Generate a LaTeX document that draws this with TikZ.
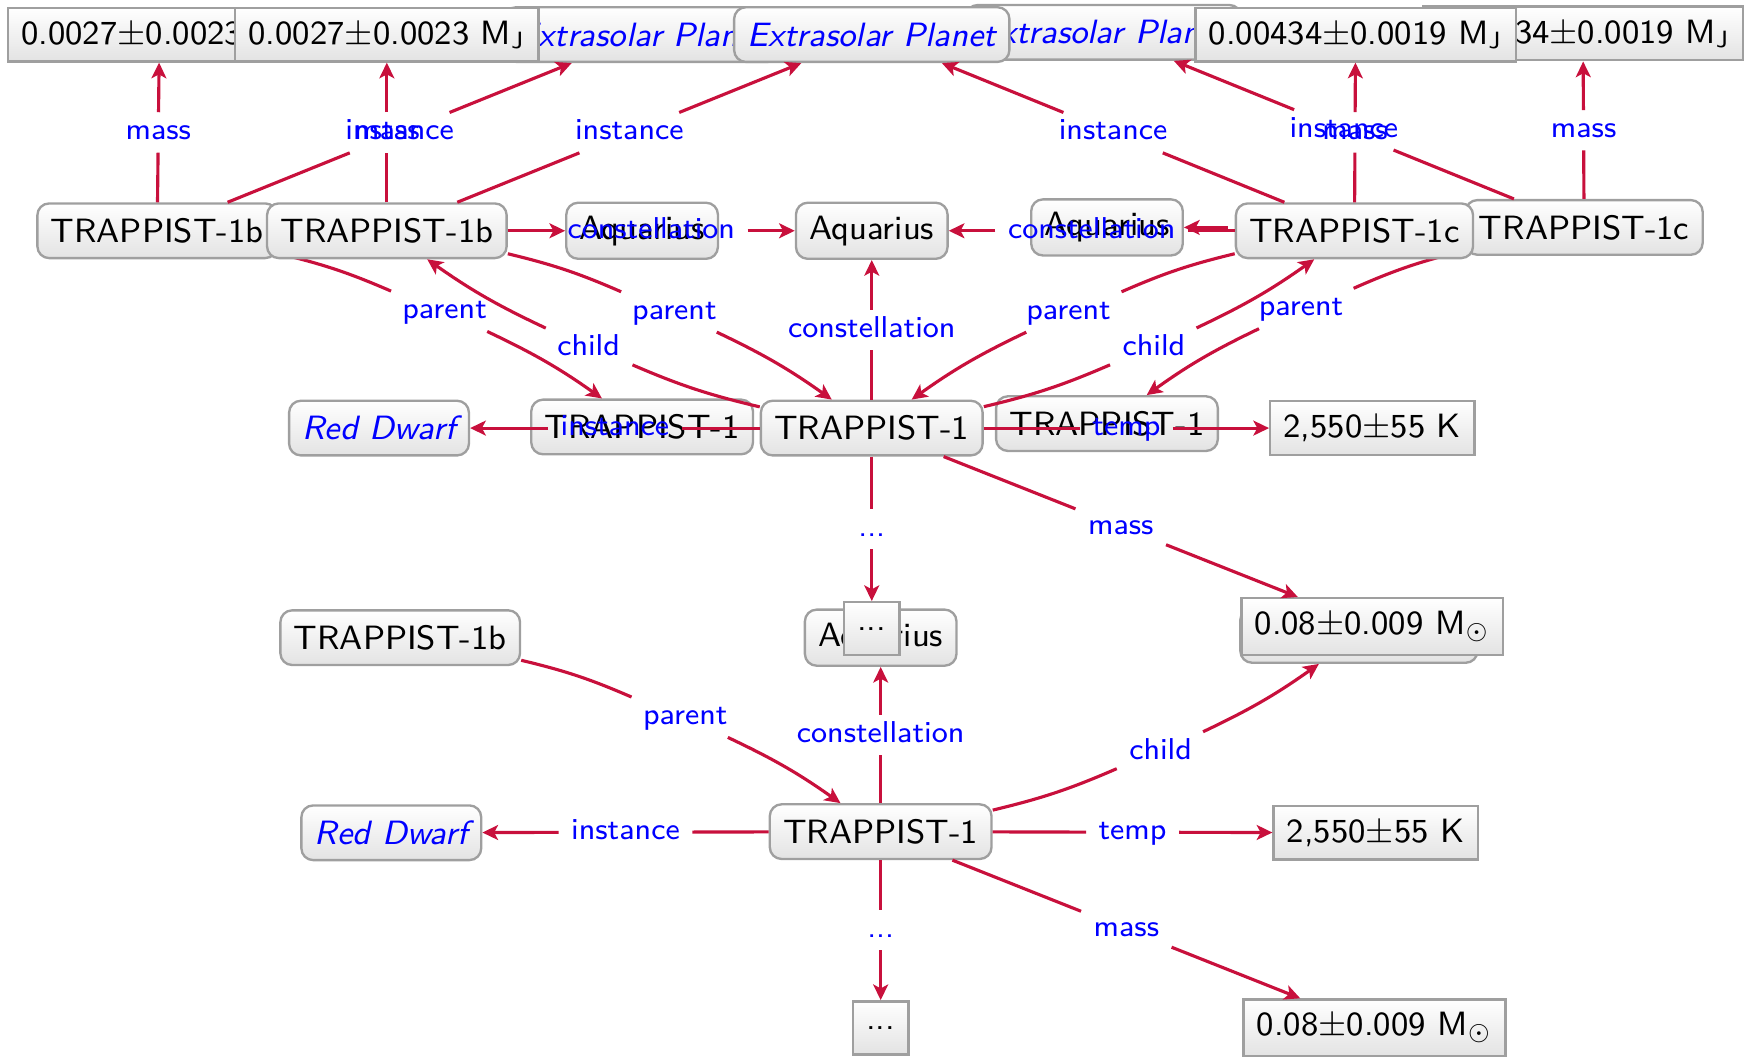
\documentclass[tikz,border=0pt]{standalone}
\usepackage{amsmath}
\usetikzlibrary{arrows,arrows.meta,positioning}
\renewcommand{\familydefault}{\sfdefault}
\definecolor{edgered}{RGB}{200,16,60}

% straight and bent relations, the line stops short of its label
\newcommand{\linkto}[3]{%
  \path (#1) -- node[lbl] (lb) {#2} (#3);
  \draw[rel] (#1) -- (lb) (lb) -- (#3);}
\newcommand{\bendto}[4]{%
  \path (#2) to[bend #1=10] node[lbl] (lb) {#3} (#4);
  \draw[rel] (#2) to[bend #1=5] (lb) (lb) to[bend #1=5] (#4);}

\begin{document}
\begin{tikzpicture}[%
>={Stealth[length=4pt,width=3.8pt,inset=1pt]},
x=0.01cm, y=0.01cm,
obj/.style={draw=gray!75, line width=0.6pt, rounded corners=3pt, top color=white,
  bottom color=gray!22, minimum height=0.49cm, inner xsep=3.4pt,
  font=\fontsize{8.6}{10}\selectfont},
cls/.style={obj, text=blue, font=\fontsize{8.6}{10}\selectfont\itshape},
val/.style={obj, sharp corners, minimum height=0.475cm},
lbl/.style={text=blue, inner xsep=3pt, inner ysep=1.3pt, text height=5.5pt,
  text depth=1.8pt, font=\fontsize{7.7}{9}\selectfont},
rel/.style={->, draw=edgered, line width=0.8pt}
]
\useasboundingbox (0,0) rectangle (1568,-948);

% lower frame
\node[obj] (tbLow) at (359,-572) {TRAPPIST-1b};
\node[obj] (aqLow) at (790,-572) {Aquarius};
\node[obj] (tcLow) at (1219,-570) {TRAPPIST-1c};
\node[cls] (rdLow) at (351,-747) {Red Dwarf};
\node[obj] (tLow) at (790,-746) {TRAPPIST-1};
\node[val] (tempLow) at (1234,-747) {2,550$\pm$55 K};
\node[val] (dotLow) at (790,-922) {...};
\node[val] (massLow) at (1233,-922) {0.08$\pm$0.009 M$_\odot$};

\bendto{left}{tbLow}{parent}{tLow}
\linkto{tLow}{constellation}{aqLow}
\bendto{right}{tLow}{child}{tcLow}
\linkto{tLow}{instance}{rdLow}
\linkto{tLow}{temp}{tempLow}
\linkto{tLow}{...}{dotLow}
\linkto{tLow}{mass}{massLow}

% left copy
\node[val] (a1) at (143,-31) {0.0027$\pm$0.0023 M$_\mathsf{J}$};
\node[cls] (e1) at (576,-31) {Extrasolar Planet};
\node[obj] (tb1) at (141,-207) {TRAPPIST-1b};
\node[obj] (aqL) at (576,-207) {Aquarius};
\node[obj] (tL) at (576,-383) {TRAPPIST-1};

\linkto{tb1}{instance}{e1}
\linkto{tb1}{mass}{a1}
\linkto{tb1}{constellation}{aqL}
\bendto{left}{tb1}{parent}{tL}

% right copy
\node[val] (b2) at (1420,-30) {0.00434$\pm$0.0019 M$_\mathsf{J}$};
\node[cls] (e3) at (990,-29) {Extrasolar Planet};
\node[obj] (tc2) at (1421,-204) {TRAPPIST-1c};
\node[obj] (aqR) at (993,-204) {Aquarius};
\node[obj] (tR) at (993,-380) {TRAPPIST-1};

\linkto{tc2}{instance}{e3}
\linkto{tc2}{mass}{b2}
\linkto{tc2}{constellation}{aqR}
\bendto{right}{tc2}{parent}{tR}

% centre
\node[val] (a2) at (347,-31) {0.0027$\pm$0.0023 M$_\mathsf{J}$};
\node[cls] (e2) at (782,-31) {Extrasolar Planet};
\node[val] (b1) at (1216,-31) {0.00434$\pm$0.0019 M$_\mathsf{J}$};
\node[obj] (tb2) at (347,-207) {TRAPPIST-1b};
\node[obj] (aq) at (782,-207) {Aquarius};
\node[obj] (tc1) at (1215,-207) {TRAPPIST-1c};
\node[cls] (rd) at (340,-384) {Red Dwarf};
\node[obj] (t) at (782,-384) {TRAPPIST-1};
\node[val] (temp) at (1231,-384) {2,550$\pm$55 K};
\node[val] (dots) at (782,-564) {...};
\node[val] (mass) at (1231,-562) {0.08$\pm$0.009 M$_\odot$};

\linkto{tb2}{mass}{a2}
\linkto{tb2}{instance}{e2}
\linkto{tb2}{constellation}{aq}
\bendto{left}{tb2}{parent}{t}
\bendto{left}{t}{child}{tb2}
\linkto{tc1}{instance}{e2}
\linkto{tc1}{mass}{b1}
\linkto{tc1}{constellation}{aq}
\bendto{right}{tc1}{parent}{t}
\bendto{right}{t}{child}{tc1}
\linkto{t}{constellation}{aq}
\linkto{t}{instance}{rd}
\linkto{t}{temp}{temp}
\linkto{t}{...}{dots}
\linkto{t}{mass}{mass}
\end{tikzpicture}
\end{document}
